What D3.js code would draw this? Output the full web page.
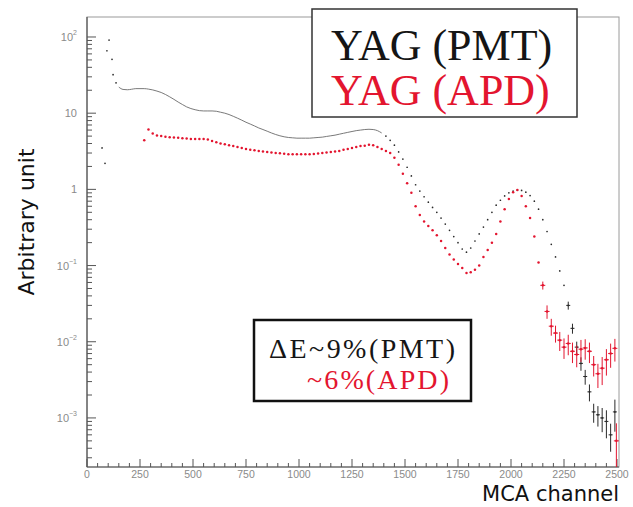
<!DOCTYPE html>
<html>
<head>
<meta charset="utf-8">
<script src="https://cdn.jsdelivr.net/npm/d3@7"></script>
<style>
  body { margin: 0; background: #fff; }
  svg { display: block; }
  .serif { font-family: "Liberation Serif", "Times New Roman", serif; }
  .tick-label { font-family: "Liberation Sans", Arial, sans-serif; }
  .title { font-family: "DejaVu Sans", sans-serif; }
</style>
</head>
<body>
<svg id="chart" width="633" height="507"></svg>
<script>
// ---- spectrum data (counts per MCA bin, arbitrary normalisation) ----
// PMT readout: a few low-channel points, then bins every 20 channels
const pmtEarlyChannels = [71, 85, 94, 104, 118, 123, 137];
const pmtEarlyCounts   = [3.5, 2.2, 66, 91, 51, 32, 25];
const pmtChannels = d3.range(150, 2500, 20);
const pmtCounts = [
  22, 20.5, 20.3, 20.6, 21, 21, 21, 20.7, 20.2, 19.5,
  18.7, 17.6, 16.4, 15.2, 14, 13, 12.1, 11.5, 11.1, 10.8,
  10.7, 10.7, 10.7, 10.6, 10.3, 10, 9.6, 9.1, 8.6, 8.1,
  7.6, 7.2, 6.8, 6.4, 6.1, 5.8, 5.5, 5.25, 5.05, 4.9,
  4.8, 4.75, 4.7, 4.7, 4.7, 4.7, 4.75, 4.8, 4.85, 4.95,
  5.05, 5.15, 5.3, 5.45, 5.6, 5.75, 5.9, 6.0, 6.1, 6.15,
  6.1, 5.9, 5.5, 5.0, 4.4, 3.8, 3.1, 2.5, 1.95, 1.5,
  1.15, 0.95, 0.8, 0.68, 0.58, 0.5, 0.42, 0.35, 0.29, 0.24,
  0.2, 0.165, 0.15, 0.17, 0.21, 0.26, 0.32, 0.4, 0.5, 0.62,
  0.72, 0.82, 0.9, 0.95, 0.98, 0.97, 0.92, 0.83, 0.7, 0.55,
  0.4, 0.28, 0.19, 0.13, 0.085, 0.055, 0.03, 0.015, 0.0085, 0.0052,
  0.0035, 0.0022, 0.0012, 0.0011, 0.001, 0.0009, 0.0006, 0.0012
];
// relative statistical errors for the PMT tail (last bins)
const pmtTailErrors = [0.12, 0.15, 0.18, 0.2, 0.22, 0.25, 0.28, 0.3, 0.35, 0.4, 0.4, 0.45];
// the smooth part of the PMT spectrum is drawn as a continuous trace up to this channel
const pmtTraceEnd = 1390;

// APD readout: bins every 20 channels
const apdEarlyChannels = [270];
const apdEarlyCounts   = [4.4];
const apdChannels = d3.range(290, 2500, 20);
const apdCounts = [
  6.1, 5.4, 5.1, 5.0, 4.9, 4.85, 4.8, 4.75, 4.7, 4.65,
  4.6, 4.6, 4.6, 4.6, 4.5, 4.3, 4.15, 4.0, 3.9, 3.8,
  3.7, 3.6, 3.5, 3.4, 3.3, 3.25, 3.2, 3.15, 3.1, 3.05,
  3.0, 2.97, 2.93, 2.9, 2.9, 2.88, 2.88, 2.9, 2.9, 2.92,
  2.95, 3.0, 3.05, 3.1, 3.15, 3.2, 3.3, 3.4, 3.5, 3.6,
  3.7, 3.75, 3.85, 3.8, 3.6, 3.4, 3.2, 3.0, 2.6, 2.1,
  1.6, 1.2, 0.9, 0.6, 0.46, 0.38, 0.33, 0.29, 0.25, 0.21,
  0.17, 0.14, 0.12, 0.105, 0.093, 0.08, 0.082, 0.088, 0.1, 0.13,
  0.16, 0.2, 0.26, 0.38, 0.55, 0.75, 0.92, 0.98, 0.82, 0.6,
  0.42, 0.24, 0.11, 0.055, 0.025, 0.016, 0.013, 0.0105, 0.0085, 0.0095,
  0.0075, 0.0068, 0.008, 0.0083, 0.0075, 0.005, 0.0038, 0.0045, 0.0058, 0.007,
  0.0082
];
// relative errors for the APD tail (from channel 2150 on)
const apdTailErrors = [0.12, 0.2, 0.25, 0.25, 0.28, 0.3, 0.3, 0.3, 0.32, 0.32, 0.3, 0.3, 0.3, 0.35, 0.4, 0.38, 0.35, 0.33];
// last APD bin at the upper edge of the range
const apdEdgeChannel = 2497;
const apdEdgeCount = 5e-4;
const apdEdgeError = 0.7;

// ---- axes ----
const xTickValues = d3.range(0, 2501, 250);
const yDecades = [1e2, 1e1, 1, 1e-1, 1e-2, 1e-3];
const yDecadeLabels = [["10", "2"], ["10", ""], ["1", ""], ["10", "-1"], ["10", "-2"], ["10", "-3"]];

const legendLines = ["YAG (PMT)", "YAG (APD)"];
const resolutionLines = ["\u0394E~9%(PMT)", "~6%(APD)"];

const pmtColor = "#2a2a2a";
const apdColor = "#e3152f";

const svg = d3.select("#chart");
const M = { left: 87, right: 619, top: 17, bottom: 467 };

const x = d3.scaleLinear().domain([0, 2500]).range([M.left, M.right - 2]);
const y = d3.scaleLog().domain([2.27e-4, 183]).range([M.bottom, M.top]);

// frame
svg.append("rect")
  .attr("x", M.left).attr("y", M.top)
  .attr("width", M.right - M.left).attr("height", M.bottom - M.top)
  .attr("fill", "none").attr("stroke", "#9a9a9a").attr("stroke-width", 1);

const axisColor = "#555";
// x axis: ticks point into the plot
const xAxis = svg.append("g").attr("transform", `translate(0,${M.bottom})`);
xAxis.append("line").attr("x1", M.left).attr("x2", M.right)
  .attr("stroke", axisColor).attr("stroke-width", 1.2);
const xMinor = d3.range(0, 2501, 50);
xAxis.selectAll("line.minor").data(xMinor).join("line")
  .attr("class", "minor")
  .attr("x1", d => x(d)).attr("x2", d => x(d))
  .attr("y1", 0).attr("y2", d => d % 250 === 0 ? -8 : -4)
  .attr("stroke", axisColor).attr("stroke-width", 1);
xAxis.selectAll("text").data(xTickValues).join("text")
  .attr("class", "tick-label")
  .attr("x", d => x(d)).attr("y", 11)
  .attr("text-anchor", "middle")
  .attr("font-size", 10.5)
  .attr("fill", "#8a8a8a")
  .text(d => d);

// y axis
const yAxis = svg.append("g").attr("transform", `translate(${M.left},0)`);
yAxis.append("line").attr("y1", M.top).attr("y2", M.bottom)
  .attr("stroke", axisColor).attr("stroke-width", 1.2);
const yMinor = [];
for (let e = -4; e <= 2; e++) for (let m = 1; m <= 9; m++) {
  const v = m * Math.pow(10, e);
  if (v >= y.domain()[0] && v <= y.domain()[1]) yMinor.push(v);
}
yAxis.selectAll("line.minor").data(yMinor).join("line")
  .attr("class", "minor")
  .attr("y1", d => y(d)).attr("y2", d => y(d))
  .attr("x1", 0).attr("x2", d => Math.abs(Math.log10(d) - Math.round(Math.log10(d))) < 1e-9 ? 9 : 5)
  .attr("stroke", axisColor).attr("stroke-width", 1);
const yLab = yAxis.selectAll("text").data(yDecades).join("text")
  .attr("class", "tick-label")
  .attr("x", -10).attr("y", d => y(d) + 4)
  .attr("text-anchor", "end")
  .attr("font-size", 11)
  .attr("fill", "#8a8a8a");
yLab.each(function(d, i) {
  const [base, sup] = yDecadeLabels[i];
  const t = d3.select(this);
  t.append("tspan").text(base);
  if (sup) t.append("tspan").attr("dy", -6).attr("font-size", 7).text(sup.replace("-", "\u2212"));
});

// axis titles
svg.append("text")
  .attr("class", "title")
  .attr("transform", "translate(34,222) rotate(-90)")
  .attr("text-anchor", "middle")
  .attr("font-size", 22)
  .attr("fill", "#111")
  .text("Arbitrary unit");
svg.append("text")
  .attr("class", "title")
  .attr("x", 619).attr("y", 501)
  .attr("text-anchor", "end")
  .attr("font-size", 21)
  .attr("fill", "#111")
  .text("MCA channel");

// ---- data ----
svg.append("defs").append("clipPath").attr("id", "plotClip")
  .append("rect").attr("x", M.left).attr("y", M.top)
  .attr("width", M.right - M.left).attr("height", M.bottom - M.top);
const plot = svg.append("g").attr("clip-path", "url(#plotClip)");

const pmtPoints = pmtEarlyChannels.map((c, i) => ({ c, v: pmtEarlyCounts[i], e: 0 }))
  .concat(pmtChannels.map((c, i) => {
    const k = i - (pmtChannels.length - pmtTailErrors.length);
    return { c, v: pmtCounts[i], e: k >= 0 ? pmtTailErrors[k] : 0 };
  }));
const apdStart = apdChannels.indexOf(2150);
const apdPoints = apdEarlyChannels.map((c, i) => ({ c, v: apdEarlyCounts[i], e: 0 }))
  .concat(apdChannels.map((c, i) => {
    const k = i - apdStart;
    return { c, v: apdCounts[i], e: k >= 0 && k < apdTailErrors.length ? apdTailErrors[k] : 0 };
  }))
  .concat([{ c: apdEdgeChannel, v: apdEdgeCount, e: apdEdgeError }]);

// continuous trace for the smooth part of the PMT spectrum
const trace = d3.line().x(p => x(p.c)).y(p => y(p.v)).curve(d3.curveMonotoneX);
plot.append("path")
  .datum(pmtPoints.filter(p => p.c >= 150 && p.c <= pmtTraceEnd))
  .attr("d", trace)
  .attr("fill", "none").attr("stroke", "#6a6a6a").attr("stroke-width", 0.9);

function drawSeries(points, color, r, capHalf, barW) {
  const g = plot.append("g");
  const withErr = points.filter(p => p.e > 0);
  g.selectAll("line.ev").data(withErr).join("line")
    .attr("class", "ev")
    .attr("x1", p => x(p.c)).attr("x2", p => x(p.c))
    .attr("y1", p => y(Math.max(p.v * (1 - p.e), 1e-5))).attr("y2", p => y(p.v * (1 + p.e)))
    .attr("stroke", color).attr("stroke-width", barW);
  g.selectAll("line.eh").data(withErr).join("line")
    .attr("class", "eh")
    .attr("x1", p => x(p.c) - capHalf).attr("x2", p => x(p.c) + capHalf)
    .attr("y1", p => y(p.v)).attr("y2", p => y(p.v))
    .attr("stroke", color).attr("stroke-width", barW);
  g.selectAll("circle").data(points).join("circle")
    .attr("cx", p => x(p.c)).attr("cy", p => y(p.v))
    .attr("r", r).attr("fill", color);
}
drawSeries(pmtPoints.filter(p => p.c < 150 || p.c > pmtTraceEnd), pmtColor, 0.85, 2, 1);
drawSeries(apdPoints, apdColor, 1.25, 2.5, 1);

// ---- legend boxes ----
const leg = svg.append("g");
leg.append("rect").attr("x", 312).attr("y", 9).attr("width", 265).attr("height", 108)
  .attr("fill", "#fff").attr("stroke", "#333").attr("stroke-width", 1.5);
leg.selectAll("text").data(legendLines).join("text")
  .attr("class", "serif")
  .attr("x", 331).attr("y", (d, i) => 60 + i * 45)
  .attr("font-size", 44)
  .attr("fill", (d, i) => i === 0 ? "#151515" : apdColor)
  .text(d => d);

const res = svg.append("g");
const resWidths = [186, 142];
res.append("rect").attr("x", 254).attr("y", 320).attr("width", 217).attr("height", 81)
  .attr("fill", "#fff").attr("stroke", "#111").attr("stroke-width", 2.5);
res.selectAll("text").data(resolutionLines).join("text")
  .attr("class", "serif")
  .attr("x", (d, i) => i === 0 ? 269 : 307).attr("y", (d, i) => 358 + i * 31)
  .attr("font-size", 28)
  .attr("textLength", (d, i) => resWidths[i])
  .attr("lengthAdjust", "spacing")
  .attr("fill", (d, i) => i === 0 ? "#151515" : apdColor)
  .text(d => d);
</script>
</body>
</html>
